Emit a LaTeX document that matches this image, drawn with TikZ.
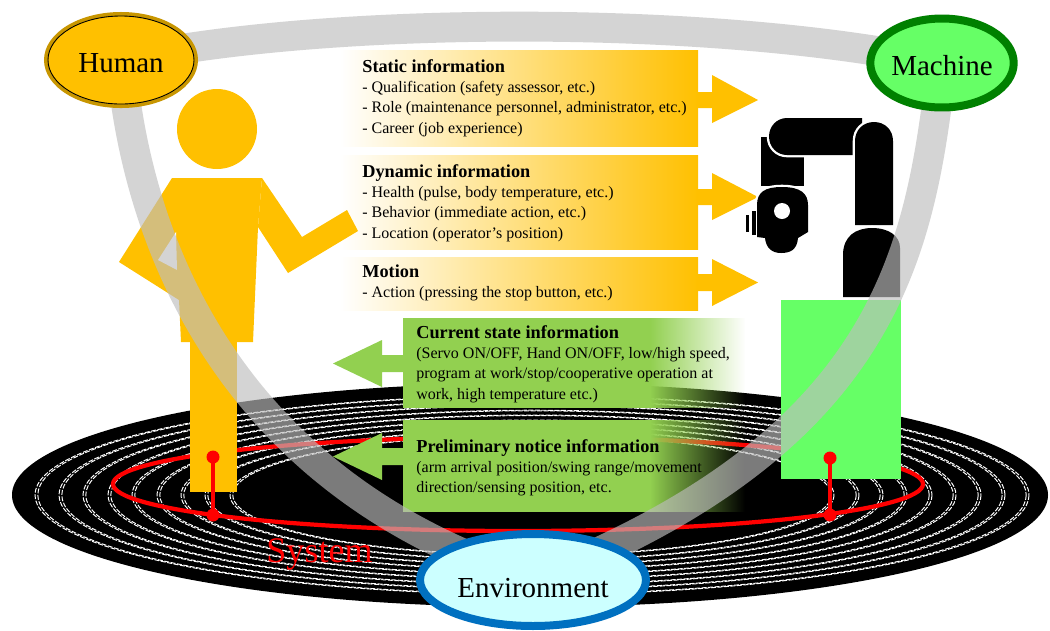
\documentclass[tikz,border=0pt]{standalone}
\usepackage{fontspec}
\setmainfont{Liberation Serif}
\usetikzlibrary{shapes.geometric,fadings}

\definecolor{hyellow}{HTML}{FFC000}
\definecolor{hborder}{HTML}{C89600}
\definecolor{mfill}{HTML}{66FF66}
\definecolor{mborder}{HTML}{008000}
\definecolor{efill}{HTML}{CCFFFF}
\definecolor{eborder}{HTML}{0070C0}
\definecolor{boxgreen}{HTML}{92D050}
\definecolor{bandgray}{HTML}{BDBDBD}

\newcommand{\boxtitle}[1]{{\fontsize{10.4}{11.66}\selectfont\bfseries #1}}

\begin{document}
\begin{tikzpicture}[x=0.02cm, y=-0.02cm,
  ring/.style={draw=white, line width=0.55pt, dash pattern=on 2.8pt off 0.9pt},
  band/.style={draw=bandgray, draw opacity=0.65, line width=17pt},
  info/.style={anchor=base west, inner sep=0pt, font=\fontsize{9.1}{11.66}\selectfont},
  oval/.style={ellipse, inner sep=0pt, text height=13.7pt, text depth=0pt,
               font=\fontsize{16.5}{18}\selectfont},
  robot/.style={fill=black, preaction={draw=white, line width=2.6pt}},
  pin/.style={draw=red, line width=1.9pt},
  pinhead/.style={fill=red},
]
\fill[white] (0,0) rectangle (1050,630);
\useasboundingbox (0,0) rectangle (1050,630);

% ---- ground disc with its rings ----
\fill[black] (530,495) ellipse [x radius=518, y radius=112];
\foreach \r in {497,473,449,424,400,375,351,327,302} {
  \draw[ring] (532,495) ellipse [x radius=\r, y radius={0.2*\r}];
  \draw[ring] (532,495) ellipse [x radius={\r-2.8}, y radius={0.2*(\r-2.8)}];
}

% ---- system boundary ----
\draw[red, line width=2.4pt] (518,484) ellipse [x radius=405, y radius=47];

% ---- information from human to machine ----
\shade[left color=white, right color=hyellow] (340,50) rectangle (698,146);
\fill[hyellow] (697,92) -- (712,92) -- (712,75) -- (758,100) -- (712,123) -- (712,108) -- (697,108) -- cycle;
\shade[left color=white, right color=hyellow] (340,155) rectangle (698,249);
\fill[hyellow] (697,189) -- (712,189) -- (712,173) -- (758,197) -- (712,220) -- (712,205) -- (697,205) -- cycle;
\shade[left color=white, right color=hyellow] (340,257) rectangle (698,310);
\fill[hyellow] (697,274) -- (712,274) -- (712,259) -- (758,282.5) -- (712,306) -- (712,291) -- (697,291) -- cycle;

\node[info] (static) at (362,72) {\begin{tabular}[t]{@{}l@{}}\boxtitle{Static information}\\
- Qualification (safety assessor, etc.)\\
- Role (maintenance personnel, administrator, etc.)\\
- Career (job experience)\end{tabular}};
\node[info] (dynamic) at (362,177) {\begin{tabular}[t]{@{}l@{}}\boxtitle{Dynamic information}\\
- Health (pulse, body temperature, etc.)\\
- Behavior (immediate action, etc.)\\
- Location (operator’s position)\end{tabular}};
\node[info] (motion) at (362,277) {\begin{tabular}[t]{@{}l@{}}\boxtitle{Motion}\\
- Action (pressing the stop button, etc.)\end{tabular}};

% ---- information from machine to human ----
\fill[boxgreen] (403,318) rectangle (651,408);
\fill[boxgreen, path fading=east] (650,318) rectangle (745,408);
\fill[boxgreen] (404,355) -- (382,355) -- (382,340) -- (333,363.5) -- (382,387) -- (382,372) -- (404,372) -- cycle;
\fill[boxgreen] (403,420) rectangle (651,512);
\fill[boxgreen, path fading=east] (650,420) rectangle (745,512);
\fill[boxgreen] (404,448) -- (382,448) -- (382,433) -- (333,456.5) -- (382,480) -- (382,465) -- (404,465) -- cycle;

\node[info] (current) at (416,338) {\begin{tabular}[t]{@{}l@{}}\boxtitle{Current state information}\\
(Servo ON/OFF, Hand ON/OFF, low/high speed,\\
program at work/stop/cooperative operation at\\
work, high temperature etc.)\end{tabular}};
\node[info] (notice) at (416,452) {\begin{tabular}[t]{@{}l@{}}\boxtitle{Preliminary notice information}\\
(arm arrival position/swing range/movement\\
direction/sensing position, etc.\end{tabular}};

% ---- human figure ----
\fill[hyellow] (217,129) circle [radius=40];
\fill[hyellow] (172,178) -- (262,178) -- (258,227) -- (253,342) -- (181,342) -- (179,300) -- (119,262) -- cycle;
\fill[hyellow] (262,178) -- (302,237) -- (347,210) -- (358,231) -- (288,273) -- (258,227) -- cycle;
\fill[white] (158,260) -- (176,232) -- (177,270) -- cycle;
\fill[hyellow] (190,340) rectangle (237,492);

% ---- robot on its base ----
\fill[mfill] (781,300) rectangle (901,479);
\path[robot] (761,137) rectangle (804,186);
\path[robot] (862,118) -- (787,118) .. controls (777,118) and (769,126) .. (769,136.5)
  .. controls (769,147) and (777,155) .. (787,155) -- (862,155) -- cycle;
\path[robot] (855,225) -- (855,141) .. controls (855,130) and (863,122) .. (874,122)
  .. controls (885,122) and (893,130) .. (893,141) -- (893,225) -- cycle;
\path[robot] (843,297) -- (843,255) .. controls (843,236) and (856,228) .. (872,228)
  .. controls (889,228) and (900,236) .. (900,248) -- (900,297) -- cycle;
\path[robot] (757,237) -- (757,205) .. controls (757,192) and (765,187) .. (782,187)
  .. controls (800,187) and (808,193) .. (808,205) -- (808,232) -- (798,238)
  .. controls (797,250) and (790,253) .. (781,253) .. controls (772,253) and (766,248) .. (765,238) -- cycle;
\fill[white] (782,211) circle [radius=8];
\fill[black] (746,215) rectangle (749,232);
\fill[black] (752,211) rectangle (756,235);

% ---- pins on the system boundary ----
\draw[pin] (213,457) -- (213,515);
\fill[pinhead] (213,457) circle [radius=6.5];
\fill[pinhead] (213,515) circle [radius=6.5];
\draw[pin] (830,458) -- (830,515);
\fill[pinhead] (830,458) circle [radius=6.5];
\fill[pinhead] (830,515) circle [radius=6.5];

% ---- relation band between the three elements ----
\coordinate (hc) at (121,60);
\coordinate (mc) at (942,63);
\coordinate (ec) at (533,580);
\draw[band] (hc) .. controls (330,15) and (720,15) .. (mc);
\draw[band] (hc) .. controls (135,230) and (220,480) .. (ec);
\draw[band] (mc) .. controls (920,250) and (890,440) .. (ec);

% ---- element ovals ----
\node[oval, fill=hyellow, draw=hborder, line width=2.3pt, minimum width=3cm, minimum height=1.84cm] (human) at (hc) {Human};
\draw[black, line width=0.5pt] (hc) ellipse [x radius=73, y radius=44];
\node[oval, fill=mfill, draw=mborder, line width=4.55pt, minimum width=2.84cm, minimum height=1.78cm] (machine) at (mc) {Machine};
\node[oval, fill=efill, draw=eborder, line width=4.55pt, minimum width=4.52cm, minimum height=1.84cm, text height=19.4pt] (environment) at (ec) {Environment};

\node[red, anchor=base, inner sep=0pt, font=\fontsize{20.5}{24}\selectfont] (system) at (319.5,562) {System};
\end{tikzpicture}
\end{document}
